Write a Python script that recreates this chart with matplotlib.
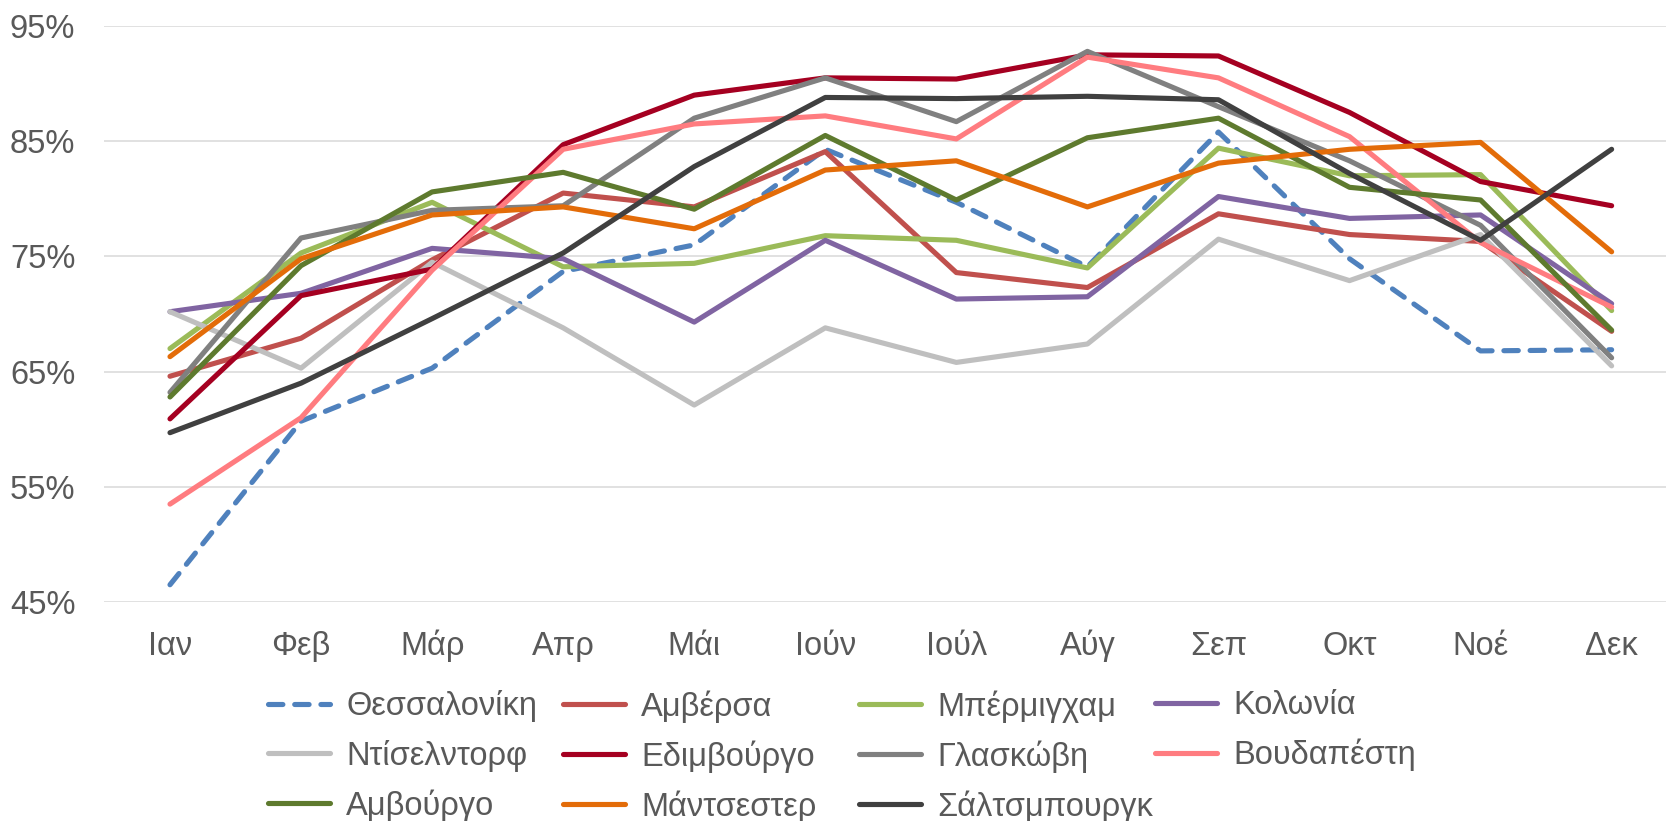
import matplotlib
matplotlib.use("Agg")
import matplotlib.pyplot as plt
from matplotlib.ticker import FuncFormatter

months = ["Ιαν", "Φεβ", "Μάρ", "Απρ", "Μάι", "Ιούν", "Ιούλ", "Αύγ", "Σεπ", "Οκτ", "Νοέ", "Δεκ"]

# monthly values per city, in percent
thessaloniki = [46.5, 60.7, 65.3, 73.7, 76.0, 84.3, 79.7, 74.1, 85.8, 74.8, 66.8, 66.9]
antwerp = [64.6, 67.9, 74.7, 80.5, 79.3, 84.1, 73.6, 72.3, 78.7, 76.9, 76.3, 68.5]
birmingham = [67.0, 75.3, 79.7, 74.1, 74.4, 76.8, 76.4, 74.0, 84.4, 82.0, 82.1, 70.3]
cologne = [70.2, 71.8, 75.7, 74.8, 69.3, 76.4, 71.3, 71.5, 80.2, 78.3, 78.6, 70.9]
dusseldorf = [70.2, 65.3, 74.5, 68.8, 62.1, 68.8, 65.8, 67.4, 76.5, 72.9, 76.9, 65.5]
edinburgh = [60.9, 71.6, 73.9, 84.7, 89.0, 90.5, 90.4, 92.5, 92.4, 87.5, 81.5, 79.4]
glasgow = [63.2, 76.6, 79.0, 79.4, 87.0, 90.5, 86.7, 92.8, 88.0, 83.3, 77.7, 66.2]
budapest = [53.5, 61.0, 73.8, 84.3, 86.5, 87.2, 85.2, 92.3, 90.5, 85.4, 76.2, 70.6]
hamburg = [62.8, 74.2, 80.6, 82.3, 79.1, 85.5, 79.9, 85.3, 87.0, 81.0, 79.9, 68.6]
manchester = [66.3, 74.8, 78.6, 79.3, 77.4, 82.5, 83.3, 79.3, 83.1, 84.3, 84.9, 75.4]
salzburg = [59.7, 64.0, 69.6, 75.3, 82.8, 88.8, 88.7, 88.9, 88.6, 82.2, 76.4, 84.3]

series = [
    ("Θεσσαλονίκη", thessaloniki, "#4F81BD"),
    ("Αμβέρσα", antwerp, "#C0504D"),
    ("Μπέρμιγχαμ", birmingham, "#9BBB59"),
    ("Κολωνία", cologne, "#8064A2"),
    ("Ντίσελντορφ", dusseldorf, "#BFBFBF"),
    ("Εδιμβούργο", edinburgh, "#A50021"),
    ("Γλασκώβη", glasgow, "#808080"),
    ("Βουδαπέστη", budapest, "#FF7C80"),
    ("Αμβούργο", hamburg, "#5E7A2E"),
    ("Μάντσεστερ", manchester, "#E36C09"),
    ("Σάλτσμπουργκ", salzburg, "#404040"),
]

plt.rcParams["font.family"] = ["Liberation Sans", "DejaVu Sans"]
text_color = "#595959"
fs = 23.5

fig = plt.figure(figsize=(16.66, 8.21), dpi=100)
ax = fig.add_axes([0.0627, 0.2667, 0.944, 0.7016])

lines = {}
for name, vals, color in series:
    if name == "Θεσσαλονίκη":
        ln, = ax.plot(range(len(months)), vals, color=color, lw=3.7,
                      linestyle=(0, (2.8, 2.3)), dash_capstyle="round",
                      solid_joinstyle="round")
    else:
        ln, = ax.plot(range(len(months)), vals, color=color, lw=3.7,
                      solid_joinstyle="round", solid_capstyle="round")
    ln.set_clip_on(False)
    lines[name] = ln

ax.set_xlim(-0.5, 11.5)
ax.set_ylim(45, 95)
ax.set_yticks(range(45, 96, 10))
ax.yaxis.set_major_formatter(FuncFormatter(lambda v, p: "%d%%" % v))
ax.set_xticks(range(len(months)))
ax.set_xticklabels(months)
ax.tick_params(axis="both", length=0, labelsize=fs, colors=text_color)
ax.tick_params(axis="y", pad=21)
ax.tick_params(axis="x", pad=38)
# keep month names on a common baseline despite accents
for lbl in ax.get_xticklabels():
    lbl.set_va("baseline")
ax.grid(axis="y", color="#D9D9D9", lw=1.1)
ax.set_axisbelow(True)
for s in ax.spines.values():
    s.set_visible(False)

# legend laid out row by row, four columns
names = [s[0] for s in series]
col_x = [0.1609, 0.3379, 0.5156, 0.6933]
for c in range(4):
    col_names = names[c::4]
    fig.legend([lines[n] for n in col_names], col_names,
               loc="upper left", bbox_to_anchor=(col_x[c], 0.1595),
               frameon=False, fontsize=fs, labelcolor=text_color,
               handlelength=1.9, handletextpad=0.5, labelspacing=0.54,
               borderpad=0, borderaxespad=0)

fig.savefig("out.png", dpi=100)
